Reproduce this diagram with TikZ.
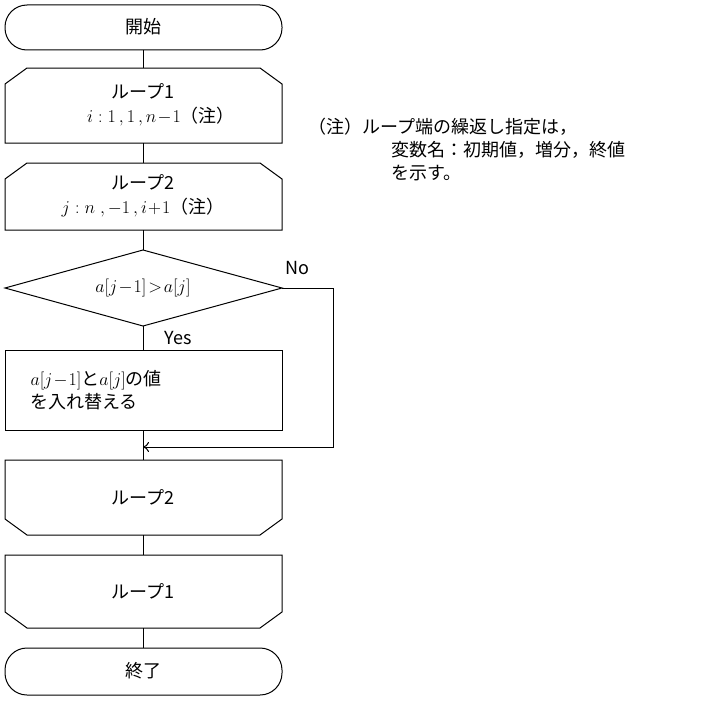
\documentclass[tikz,border=0pt]{standalone}
\usepackage{fix-cm}
\usepackage{fontspec}
\usetikzlibrary{arrows.meta}
\setmainfont{Noto Sans CJK JP}
\begin{document}
\begin{tikzpicture}[x=1pt,y=-1pt,line width=1pt,
  every node/.style={font=\fontsize{18}{23}\selectfont},
  lbl/.style={align=center,inner sep=0pt}]
\useasboundingbox (0,0) rectangle (719,701);
% start
\draw[rounded corners=22] (5,5) rectangle (282,50);
\node[lbl] (s) at (143,27) {開始};
% loop1 start
\draw (27,68) -- (260,68) -- (282,84) -- (282,143) -- (5,143) -- (5,84) -- cycle;
\node[lbl] (l1) at (143,105) {ループ1\\[1pt]\hspace*{2em}$i:1\,,1\,,n\!-\!1$（注）};
% loop2 start
\draw (27,163) -- (260,163) -- (282,179) -- (282,230) -- (5,230) -- (5,179) -- cycle;
\node[lbl] (l2) at (143,196) {ループ2\\[1pt]$j:n\;,-1\,,i\!+\!1$（注）};
% diamond
\draw (143,250) -- (282,288) -- (143,326) -- (5,288) -- cycle;
\node[lbl] (d) at (143,288) {$a[j\!-\!1]\!>\!a[j]$};
% process
\draw (5,350) rectangle (282,430);
\node[lbl,align=left,anchor=west] (p) at (30,390) {$a[j\!-\!1]$と$a[j]$の値\\を入れ替える};
% loop2 end
\draw (5,460) -- (282,460) -- (282,519) -- (260,535) -- (27,535) -- (5,519) -- cycle;
\node[lbl] (e2) at (143,497) {ループ2};
% loop1 end
\draw (5,555) -- (282,555) -- (282,612) -- (260,628) -- (27,628) -- (5,612) -- cycle;
\node[lbl] (e1) at (143,591) {ループ1};
% end
\draw[rounded corners=22] (5,648) rectangle (282,695);
\node[lbl] (t) at (143,671) {終了};
% connectors
\draw (143,50) -- (143,68);
\draw (143,143) -- (143,163);
\draw (143,230) -- (143,250);
\draw (143,326) -- (143,350);
\draw (143,430) -- (143,460);
\draw (143,535) -- (143,555);
\draw (143,628) -- (143,648);
\coordinate (dr) at (282,288); \coordinate (m) at (143,447);
\draw[-{To[length=6pt,width=10pt]}] (dr) -- (333,288) -- (333,447) -- (m);
\node[lbl] (no) at (297,268) {No};
\node[lbl] (yes) at (178,338) {Yes};
\node[lbl,align=left,anchor=north west] (note) at (308,118) {（注）ループ端の繰返し指定は，\\\hspace*{4.6em}変数名：初期値，増分，終値\\\hspace*{4.6em}を示す。};
\end{tikzpicture}
\end{document}
